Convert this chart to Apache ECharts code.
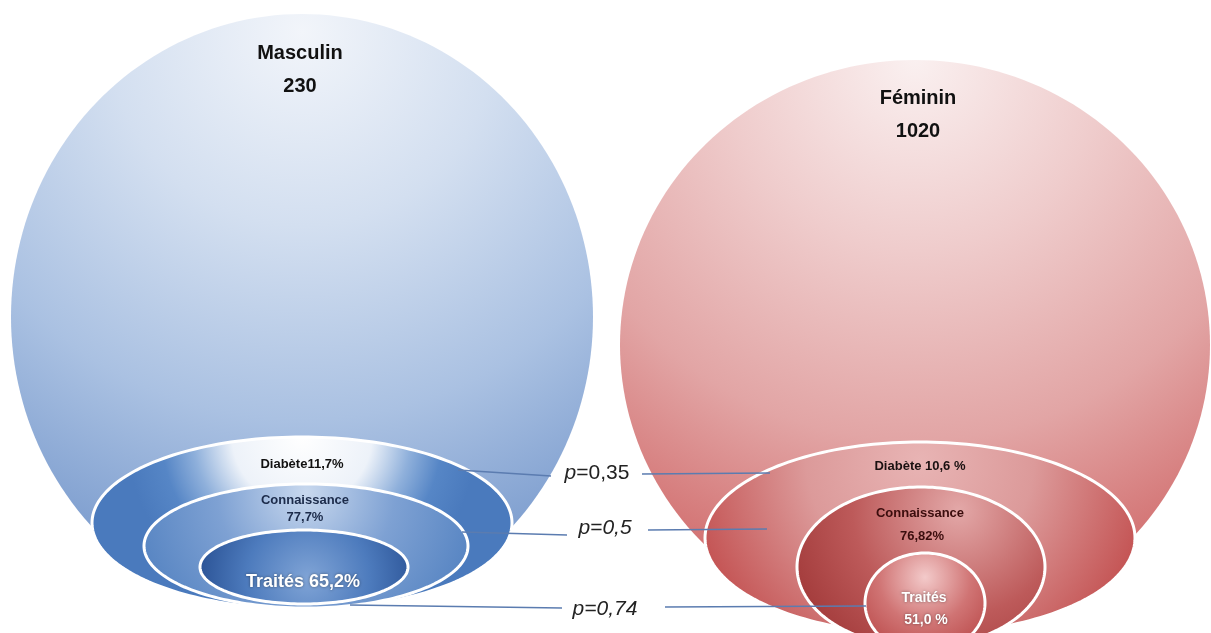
<!DOCTYPE html>
<html><head><meta charset="utf-8">
<script src="https://cdn.jsdelivr.net/npm/echarts@6/dist/echarts.min.js"></script>
<style>html,body{margin:0;padding:0;background:#fff}#c{width:1211px;height:633px}</style>
</head><body><div id="c"></div>
<script>
// ---- values ----
const groups = ['Masculin', 'Féminin'];
const effectifs = [230, 1020];
const diabete = [11.7, 10.6];
const connaissance = [77.7, 76.82];
const traites = [65.2, 51.0];
const pValues = [0.35, 0.5, 0.74];

// ---- layout (chart units: x 0..1211, y 0..633 downwards) ----
const shapeLayout = [
  { big: [302, 317, 291, 303],
    rings: [[302, 523, 210, 86], [306, 546, 162, 62], [304, 567, 104, 37]],
    title: [300, 53], count: [300, 86], diab: [302, 464], conn: [305, 500], connV: [305, 517],
    trt: [303, 582], trtV: null },
  { big: [915, 345, 295, 285],
    rings: [[920, 538, 215, 96], [921, 567, 124, 80], [925, 603, 60, 50]],
    title: [918, 98], count: [918, 131], diab: [920, 466], conn: [920, 513], connV: [922, 536],
    trt: [924, 598], trtV: [926, 620] }
];
const pLayout = [
  { text: [597, 473], left: [[458, 470], [551, 476]], right: [[642, 474], [770, 473]], italicAll: false },
  { text: [605, 528], left: [[462, 532], [567, 535]], right: [[648, 530], [767, 529]], italicAll: true },
  { text: [605, 609], left: [[350, 605], [562, 608]], right: [[665, 607], [866, 606]], italicAll: true }
];

// ---- styles ----
const FONT = '"Liberation Sans", Arial, sans-serif';
const styles = [
  { big: { x: 0.5, y: 0.03, r: 1.0, stops: ['#f2f5fa', '#d3dff0', '#aac1e2', '#7597cb'] },
    rings: [
      { x: 0.5, y: 0.0, r: 1.0, stops: [[0, '#ffffff'], [0.4, '#edf2f9'], [0.62, '#8fb0db'], [0.8, '#5686c6'], [1, '#4a7abd']] },
      { x: 0.5, y: 0.08, r: 1.4, stops: [[0, '#c8d8ee'], [0.5, '#7ea1d3'], [1, '#5684c2']] },
      { x: 0.52, y: 0.65, r: 1.6, stops: [[0, '#80a4d6'], [0.5, '#4d7bbd'], [0.9, '#2b5396'], [1, '#2b5396']] }
    ],
    diabSep: '', pctSep: '', diabColor: '#111111', connColor: '#1c2b4a', connSize: 13, trtSize: 18 },
  { big: { x: 0.5, y: 0.0, r: 1.0, stops: ['#faf0f0', '#efcccc', '#e2a5a5', '#cf6666'] },
    rings: [
      { x: 0.5, y: 0.1, r: 1.3, stops: [[0, '#e8b4b4'], [0.45, '#dc9a9a'], [1, '#c04848']] },
      { x: 0.65, y: 0.15, r: 1.3, stops: [[0, '#e3a8a8'], [0.5, '#bd5a5a'], [1, '#982e2e']] },
      { x: 0.5, y: 0.25, r: 0.9, stops: [[0, '#f3caca'], [0.5, '#d07474'], [1, '#b54040']] }
    ],
    diabSep: ' ', pctSep: ' ', diabColor: '#1a1010', connColor: '#3b0d0d', connSize: 13, trtSize: 14 }
];

function fmt(v) {
  const s = String(v);
  const d = Math.max(1, (s.split('.')[1] || '').length);
  return v.toFixed(d).replace('.', ',');
}

function radial(g) {
  const n = g.stops.length;
  const colorStops = g.stops.map((s, i) => Array.isArray(s) ? { offset: s[0], color: s[1] } : { offset: i / (n - 1), color: s });
  return { type: 'radial', x: g.x, y: g.y, r: g.r, colorStops };
}

function ellipsePts(api, e, clampRing) {
  const pts = [];
  const N = 200;
  for (let i = 0; i < N; i++) {
    const t = 2 * Math.PI * i / N;
    let x = e[0] + e[2] * Math.cos(t);
    let y = e[1] + e[3] * Math.sin(t);
    if (clampRing && y > clampRing[1]) {
      const u = (x - clampRing[0]) / clampRing[2];
      if (Math.abs(u) < 1) {
        const yb = clampRing[1] + clampRing[3] * Math.sqrt(1 - u * u);
        y = Math.min(y, yb);
      }
    }
    pts.push(api.coord([x, y]));
  }
  return pts;
}

function txt(api, pos, text, opts) {
  const p = api.coord(pos);
  return { type: 'text', x: p[0], y: p[1], z2: 10,
    style: Object.assign({ text, align: 'center', verticalAlign: 'middle', fontFamily: FONT }, opts) };
}

function renderShapes(params, api) {
  const i = api.value(0);
  const L = shapeLayout[i], S = styles[i];
  const children = [];
  children.push({ type: 'polygon', shape: { points: ellipsePts(api, L.big, L.rings[0]) },
    style: { fill: radial(S.big) } });
  L.rings.forEach((r, k) => {
    children.push({ type: 'polygon', shape: { points: ellipsePts(api, r) },
      style: { fill: radial(S.rings[k]), stroke: '#ffffff', lineWidth: 3 } });
  });
  children.push(txt(api, L.title, groups[i], { fill: '#111', fontSize: 20, fontWeight: 'bold' }));
  children.push(txt(api, L.count, String(effectifs[i]), { fill: '#111', fontSize: 20, fontWeight: 'bold' }));
  children.push(txt(api, L.diab, 'Diabète' + S.diabSep + fmt(diabete[i]) + S.pctSep + '%', { fill: S.diabColor, fontSize: 13, fontWeight: 'bold' }));
  children.push(txt(api, L.conn, 'Connaissance', { fill: S.connColor, fontSize: S.connSize, fontWeight: 'bold' }));
  children.push(txt(api, L.connV, fmt(connaissance[i]) + '%', { fill: S.connColor, fontSize: S.connSize, fontWeight: 'bold' }));
  const shadow = { textShadowColor: 'rgba(0,0,0,0.45)', textShadowBlur: 3 };
  if (L.trtV) {
    children.push(txt(api, L.trt, 'Traités', Object.assign({ fill: '#fff', fontSize: S.trtSize, fontWeight: 'bold' }, shadow)));
    children.push(txt(api, L.trtV, fmt(traites[i]) + S.pctSep + '%', Object.assign({ fill: '#fff', fontSize: S.trtSize, fontWeight: 'bold' }, shadow)));
  } else {
    children.push(txt(api, L.trt, 'Traités ' + fmt(traites[i]) + '%', Object.assign({ fill: '#fff', fontSize: S.trtSize, fontWeight: 'bold' }, shadow)));
  }
  return { type: 'group', children };
}

function renderP(params, api) {
  const i = api.value(0);
  const L = pLayout[i];
  const children = [];
  [L.left, L.right].forEach(seg => {
    const a = api.coord(seg[0]), b = api.coord(seg[1]);
    children.push({ type: 'line', shape: { x1: a[0], y1: a[1], x2: b[0], y2: b[1] },
      style: { stroke: '#5b7cb0', lineWidth: 1.5 } });
  });
  const label = '{i|p}=' + String(pValues[i]).replace('.', ',');
  children.push(txt(api, L.text, label, {
    fill: '#222', fontSize: 21, fontStyle: L.italicAll ? 'italic' : 'normal',
    rich: { i: { fontStyle: 'italic', fontSize: 21, fontFamily: FONT, fill: '#222' } }
  }));
  return { type: 'group', children };
}

const chart = echarts.init(document.getElementById('c'), null, { renderer: 'canvas' });
chart.setOption({
  animation: false,
  backgroundColor: '#ffffff',
  grid: { left: 0, right: 0, top: 0, bottom: 0 },
  xAxis: { type: 'value', min: 0, max: 1211, show: false },
  yAxis: { type: 'value', min: 0, max: 633, inverse: true, show: false },
  series: [
    { type: 'custom', renderItem: renderShapes, data: groups.map((g, i) => [i]), clip: true, z: 2 },
    { type: 'custom', renderItem: renderP, data: pValues.map((p, i) => [i]), clip: true, z: 3 }
  ]
});
</script>
</body></html>
